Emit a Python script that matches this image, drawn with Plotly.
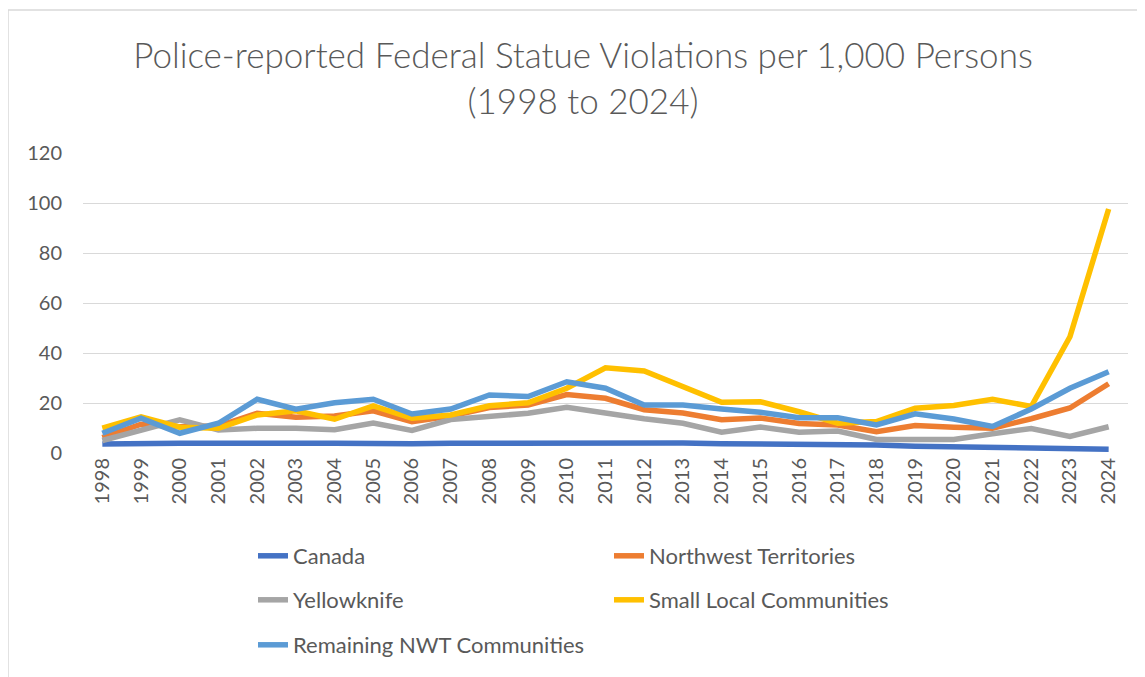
import plotly.graph_objects as go

years = list(range(1998, 2025))
canada = [3.6, 3.9, 3.9, 3.9, 4.1, 3.9, 3.9, 3.7, 3.7, 3.9, 4.0, 3.9, 4.2, 4.3, 4.2, 4.0, 3.7, 3.6, 3.6, 3.6, 3.2, 2.7, 2.4, 2.2, 2.2, 1.5, 1.5]
nwt = [6.2, 11.5, 10.5, 10.8, 15.9, 14.3, 14.8, 16.9, 12.5, 14.8, 18.2, 19.2, 23.4, 21.9, 17.3, 16.0, 13.3, 14.0, 11.8, 11.2, 8.5, 11.0, 10.3, 9.9, 13.7, 18.0, 27.7]
yellowknife = [5.0, 9.2, 13.3, 9.2, 9.9, 9.9, 9.3, 12.0, 9.0, 13.4, 14.8, 15.9, 18.3, 15.9, 13.7, 11.9, 8.3, 10.4, 8.3, 8.8, 5.4, 5.4, 5.4, 7.7, 9.8, 6.6, 10.5]
small_local = [9.9, 14.5, 10.3, 9.9, 15.2, 16.9, 13.5, 18.8, 13.9, 15.2, 18.9, 20.1, 25.9, 34.1, 32.8, 26.6, 20.3, 20.5, 16.5, 11.9, 12.6, 17.9, 19.0, 21.5, 18.6, 46.5, 97.6]
remaining = [7.9, 13.9, 7.9, 11.9, 21.5, 17.5, 20.1, 21.5, 15.6, 17.6, 23.2, 22.6, 28.5, 25.9, 19.2, 19.2, 17.6, 16.3, 14.1, 14.1, 11.2, 15.7, 13.6, 10.6, 17.6, 25.9, 32.5]

series = [
    ("Canada", canada, "#4472C4", "legend"),
    ("Northwest Territories", nwt, "#ED7D31", "legend"),
    ("Yellowknife", yellowknife, "#A5A5A5", "legend2"),
    ("Small Local Communities", small_local, "#FFC000", "legend2"),
    ("Remaining NWT Communities", remaining, "#5B9BD5", "legend3"),
]

FONT = "Lato"
TXT = "#595959"

fig = go.Figure()
for name, vals, color, lg in series:
    fig.add_trace(go.Scatter(
        x=years, y=vals, name=name, mode="lines",
        line=dict(color=color, width=5.5),
        legend=lg,
    ))

# page has an 8px body margin; figure coordinates are page minus 8
W, H = 1145, 677
L, R, T, B = 75, 1120, 145, 445
pw, ph = R - L, B - T

def px(x):
    return (x - L) / pw

def py(y):
    return (B - y) / ph

leg_common = dict(
    orientation="h", xanchor="left", yanchor="middle",
    font=dict(family=FONT, size=22, color=TXT),
    entrywidth=311, entrywidthmode="pixels",
    bgcolor="rgba(0,0,0,0)",
)

fig.update_layout(
    width=W, height=H,
    margin=dict(l=L, r=W - R, t=T, b=H - B),
    paper_bgcolor="white", plot_bgcolor="white",
    title=dict(
        text="Police-reported Federal Statue Violations per 1,000 Persons<br>(1998 to 2024)",
        x=(575 - 0) / W, xanchor="center", y=1 - 60 / H, yanchor="middle",
        font=dict(family=FONT, size=35, color=TXT, weight=300),
    ),
    showlegend=True,
    legend=dict(x=px(245), y=py(548), **leg_common),
    legend2=dict(x=px(245), y=py(592), **leg_common),
    legend3=dict(x=px(245), y=py(637), **leg_common),
    xaxis=dict(
        range=[1997.5, 2024.5], tickmode="array", tickvals=years,
        ticktext=[str(y) for y in years], tickangle=-90,
        showgrid=False, zeroline=False, showline=False, ticks="",
        tickfont=dict(family=FONT, size=20, color=TXT),
        fixedrange=True,
    ),
    yaxis=dict(
        range=[0, 120], tickmode="array", tickvals=[0, 20, 40, 60, 80, 100, 120],
        showgrid=True, gridcolor="#D9D9D9", gridwidth=1.3,
        zeroline=False, showline=False, ticks="",
        ticklabelstandoff=20,
        tickfont=dict(family=FONT, size=20, color=TXT),
    ),
    shapes=[dict(
        type="rect", xref="paper", yref="paper",
        x0=px(0), x1=px(1160), y0=py(2), y1=py(700),
        line=dict(color="#D9D9D9", width=1.5), fillcolor="rgba(0,0,0,0)",
        layer="below",
    )],
)

fig.write_html("out.html")
